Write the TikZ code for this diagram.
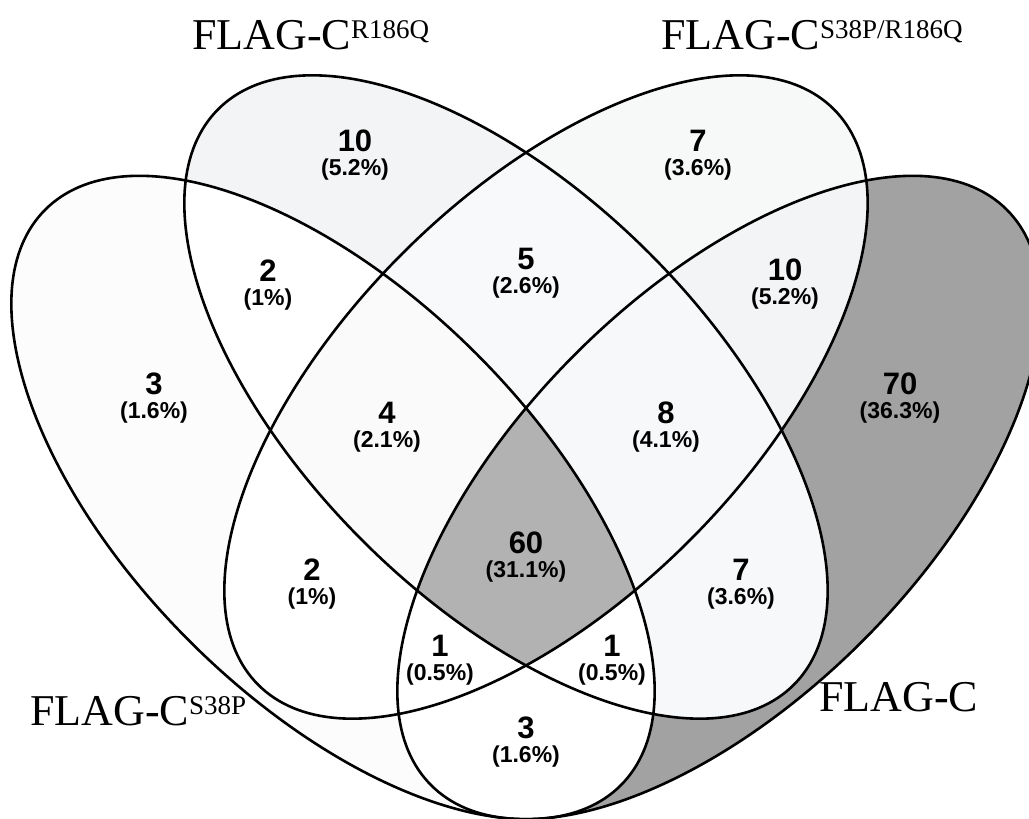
\documentclass[tikz,border=0pt]{standalone}
\usepackage{fontspec}
\setmainfont{Liberation Serif}
\newfontfamily\numfont{Liberation Sans}
\definecolor{cDonly}{HTML}{A2A2A2}
\definecolor{cAll}{HTML}{B2B2B2}
\definecolor{cAonly}{HTML}{FCFCFC}
\definecolor{cBonly}{HTML}{F3F4F6}
\definecolor{cConly}{HTML}{F7F8F8}
\definecolor{cCD}{HTML}{F3F4F6}
\definecolor{cBC}{HTML}{F8F9FA}
\definecolor{cBD}{HTML}{F7F8F9}
\definecolor{cBCD}{HTML}{F7F8F9}
\definecolor{cABC}{HTML}{FAFAFA}
\newcommand\ElA{(333,321.5) ellipse [x radius=407, y radius=203, rotate=-45]}
\newcommand\ElB{(506,422) ellipse [x radius=407, y radius=203, rotate=-45]}
\newcommand\ElC{(546,422) ellipse [x radius=407, y radius=203, rotate=45]}
\newcommand\ElD{(719,321.5) ellipse [x radius=407, y radius=203, rotate=45]}
\newcommand\SupTxt[1]{\raisebox{11pt}{\fontsize{27}{27}\selectfont #1}}
\begin{document}
\begin{tikzpicture}[x=1pt,y=1pt,
  num/.style={anchor=base,inner sep=0pt,font=\numfont\bfseries\fontsize{31}{31}\selectfont},
  pct/.style={anchor=base,inner sep=0pt,font=\numfont\bfseries\fontsize{23}{23}\selectfont},
  setlabel/.style={anchor=base west,inner sep=0pt,font=\fontsize{44}{44}\selectfont},
  outline/.style={draw=black,line width=2.6pt}]
\useasboundingbox (0,0) rectangle (1029,819);
\fill[white] (0,0) rectangle (1029,819);
% region fills
\fill[cDonly] \ElD;
\fill[white] \ElA; \fill[white] \ElB; \fill[white] \ElC;
\begin{scope}\clip \ElA; \fill[cAonly] \ElA; \fill[white] \ElB; \fill[white] \ElC; \fill[white] \ElD; \end{scope}
\begin{scope}\clip \ElB; \fill[cBonly] \ElB; \fill[white] \ElA; \fill[white] \ElC; \fill[white] \ElD; \end{scope}
\begin{scope}\clip \ElC; \fill[cConly] \ElC; \fill[white] \ElA; \fill[white] \ElB; \fill[white] \ElD; \end{scope}
\begin{scope}\clip \ElC; \clip \ElD; \fill[cCD] \ElC; \fill[white] \ElA; \fill[white] \ElB; \end{scope}
\begin{scope}\clip \ElB; \clip \ElC; \fill[cBC] \ElB; \fill[white] \ElA; \fill[white] \ElD; \end{scope}
\begin{scope}\clip \ElB; \clip \ElD; \fill[cBD] \ElB; \fill[white] \ElA; \fill[white] \ElC; \end{scope}
\begin{scope}\clip \ElB; \clip \ElC; \clip \ElD; \fill[cBCD] \ElB; \fill[white] \ElA; \end{scope}
\begin{scope}\clip \ElA; \clip \ElB; \clip \ElC; \fill[cABC] \ElA; \fill[white] \ElD; \end{scope}
\begin{scope}\clip \ElA; \clip \ElB; \clip \ElC; \clip \ElD; \fill[cAll] \ElA; \end{scope}
% outlines
\path[outline] \ElA;
\path[outline] \ElB;
\path[outline] \ElC;
\path[outline] \ElD;
% set labels
\node[setlabel] (lB) at (192,769) {FLAG-C\SupTxt{R186Q}};
\node[setlabel] (lC) at (661,769) {FLAG-C\SupTxt{S38P/R186Q}};
\node[setlabel] (lA) at (30,93) {FLAG-C\SupTxt{S38P}};
\node[setlabel] (lD) at (819,107) {FLAG-C};
% counts
\node[num] (nA) at (154,424) {3};   \node[pct] (pA) at (154,400) {(1.6\%)};
\node[num] (nB) at (355,667) {10};  \node[pct] (pB) at (355,643) {(5.2\%)};
\node[num] (nC) at (698,667) {7};   \node[pct] (pC) at (698,643) {(3.6\%)};
\node[num] (nD) at (900,424) {70};  \node[pct] (pD) at (900,400) {(36.3\%)};
\node[num] (nAB) at (268,537) {2};  \node[pct] (pAB) at (268,513) {(1\%)};
\node[num] (nBC) at (526,549) {5};  \node[pct] (pBC) at (526,525) {(2.6\%)};
\node[num] (nCD) at (785,538) {10}; \node[pct] (pCD) at (785,514) {(5.2\%)};
\node[num] (nABC) at (387,395) {4}; \node[pct] (pABC) at (387,371) {(2.1\%)};
\node[num] (nBCD) at (666,395) {8}; \node[pct] (pBCD) at (666,371) {(4.1\%)};
\node[num] (nAC) at (312,238) {2};  \node[pct] (pAC) at (312,214) {(1\%)};
\node[num] (nAll) at (526,265) {60}; \node[pct] (pAll) at (526,241) {(31.1\%)};
\node[num] (nBD) at (741,238) {7};  \node[pct] (pBD) at (741,214) {(3.6\%)};
\node[num] (nACD) at (440,162) {1}; \node[pct] (pACD) at (440,138) {(0.5\%)};
\node[num] (nABD) at (612,162) {1}; \node[pct] (pABD) at (612,138) {(0.5\%)};
\node[num] (nAD) at (526,80) {3};   \node[pct] (pAD) at (526,56) {(1.6\%)};
\end{tikzpicture}
\end{document}
